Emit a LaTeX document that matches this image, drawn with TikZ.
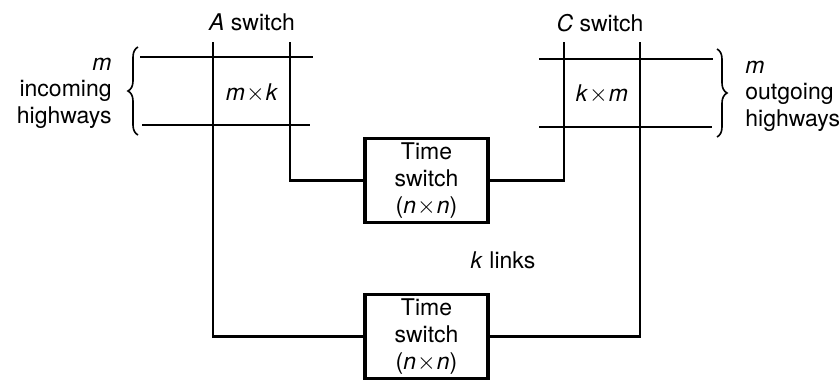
\documentclass[tikz,border=0pt]{standalone}
\usepackage{fontspec}
\setmainfont{TeX Gyre Heros}
\usetikzlibrary{decorations.pathreplacing}
\newcommand{\tms}{\kern0.5pt$\times$\kern0.5pt}
\begin{document}
\begin{tikzpicture}[x=0.5pt,y=-0.5pt,
  wire/.style={line width=1.1pt},
  tsbox/.style={draw, line width=1.8pt, minimum width=61.5pt, minimum height=42pt, align=center, inner sep=0pt, font=\fontsize{11.5}{13.5}\selectfont},
  lbl/.style={font=\fontsize{11.5}{13.3}\selectfont, inner sep=0pt},
  bracestyle/.style={decorate, decoration={brace, amplitude=5pt}, line width=0.8pt}]
\useasboundingbox (0,0) rectangle (840,381);
% time switches
\node[tsbox] (ts1) at (426.5,180.5) {Time\\switch\\(\textit{n}\tms\textit{n})};
\node[tsbox] (ts2) at (426.5,336.5) {Time\\switch\\(\textit{n}\tms\textit{n})};
% A switch
\coordinate (a1) at (213,42);
\coordinate (a2) at (290,42);
\coordinate (ah1l) at (140,57); \coordinate (ah1r) at (313,57);
\coordinate (ah2l) at (142,125); \coordinate (ah2r) at (310,125);
\draw[wire] (ah1l) -- (ah1r);
\draw[wire] (ah2l) -- (ah2r);
\draw[wire] (a2) |- (ts1.west);
\draw[wire] (a1) |- (ts2.west);
% C switch
\coordinate (c1) at (564,42);
\coordinate (c2) at (640,42);
\coordinate (ch1l) at (539,59); \coordinate (ch1r) at (713,59);
\coordinate (ch2l) at (539,127); \coordinate (ch2r) at (712,127);
\draw[wire] (ch1l) -- (ch1r);
\draw[wire] (ch2l) -- (ch2r);
\draw[wire] (c1) |- (ts1.east);
\draw[wire] (c2) |- (ts2.east);
% braces
\coordinate (lb1) at (138,135); \coordinate (lb2) at (138,47);
\coordinate (rb1) at (717,49); \coordinate (rb2) at (717,137);
\draw[bracestyle] (lb1) -- (lb2);
\draw[bracestyle] (rb1) -- (rb2);
% labels
\node[lbl] (atitle) at (252,22) {\textit{A} switch};
\node[lbl] (ctitle) at (600,23) {\textit{C} switch};
\node[lbl] (axk) at (252,93) {\textit{m}\tms\textit{k}};
\node[lbl] (cxk) at (602,94) {\textit{k}\tms\textit{m}};
\node[lbl, anchor=east, align=right] (inc) at (112,93) {\textit{m}\\incoming\\highways};
\node[lbl, anchor=west, align=left] (outg) at (745,96) {\textit{m}\\outgoing\\highways};
\node[lbl] (klinks) at (503,260) {\textit{k} links};
\end{tikzpicture}
\end{document}
